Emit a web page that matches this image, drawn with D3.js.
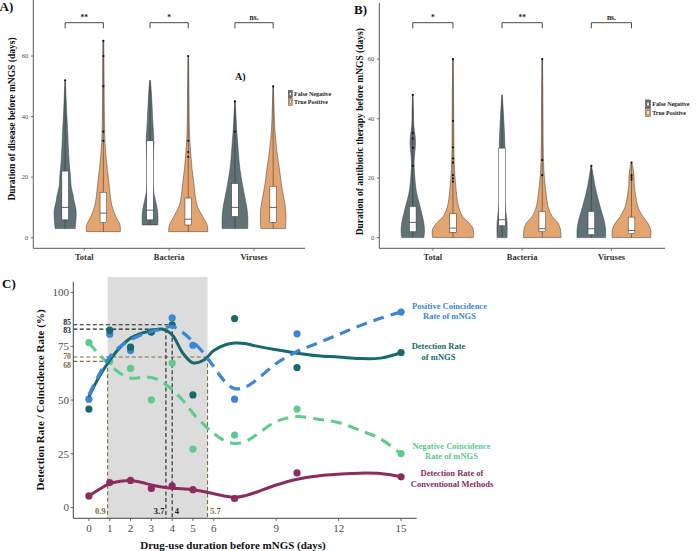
<!DOCTYPE html>
<html><head><meta charset="utf-8">
<script src="https://cdn.jsdelivr.net/npm/d3@7"></script>
<style>body{margin:0;background:#fff}svg{display:block;font-family:"Liberation Serif","Times New Roman",serif}</style>
</head><body><svg id="c" width="696" height="551"></svg>
<script>
// ---------------- DATA ----------------
const categories = ["Total", "Bacteria", "Viruses"];
const groups = ["False Negative", "True Positive"];
const groupColors = ["#5f7276", "#e3a46f"];

// Panel A: duration of disease before mNGS (days)
const sigA = ["**", "*", "ns."];
const densA_FN = [
  [[3,.50],[6,.54],[9,.55],[12,.45],[14,.40],[17,.30],[20,.27],[25,.20],[30,.16],[36,.12],[41,.08],[47,.04],[52,.01]],
  [[4.2,.39],[8,.39],[11.5,.30],[14.8,.19],[18,.15],[22.6,.14],[27,.16],[32,.19],[38,.14],[43.7,.10],[48,.065],[52,.015]],
  [[3,.64],[7,.64],[10.3,.585],[13.7,.485],[18.1,.36],[22.6,.25],[27,.185],[31.5,.135],[35.9,.085],[40.3,.05],[45.3,.01]]
];
const densA_TP = [
  [[2,.85],[4.3,.83],[7,.62],[10.3,.44],[13.7,.35],[18,.28],[22.6,.20],[27,.13],[31.5,.085],[36,.06],[45,.045],[55,.035],[65,.02]],
  [[2,.98],[4.3,.94],[7,.72],[10.3,.46],[13.7,.35],[18,.28],[22.6,.19],[27,.135],[31.5,.085],[36,.055],[45,.04],[52,.03],[60,.015]],
  [[3,.615],[7,.64],[10.3,.61],[13.7,.515],[18.1,.40],[22.6,.315],[27,.215],[31.5,.14],[35.9,.085],[41.5,.05],[50,.01]]
];
const boxA_FN = [[5.9,10,22],[5.9,9.1,32],[7,10,17.9]];
const boxA_TP = [[5,8.1,15],[4.2,6.1,13.1],[5.1,10,17]];
const outA_FN = [[52],[],[45,35]];
const outA_TP = [[65,60,50,35,32],[60,32,28.3,26.7],[50]];
const ticksA = [0, 20, 40, 60];

// Panel B: duration of antibiotic therapy before mNGS (days)
const sigB = ["*", "**", "ns."];
const densB_FN = [
  [[0,.56],[2.6,.585],[5.4,.54],[8.3,.44],[11.7,.315],[15,.19],[18.4,.125],[21.8,.085],[25.2,.065],[28.6,.10],[31.4,.135],[34.2,.115],[37.6,.05],[42.2,.035],[48,.01]],
  [[0,.25],[4.9,.25],[9.4,.175],[13.9,.11],[19.6,.09],[25.2,.11],[30.8,.14],[36.5,.11],[42.2,.065],[48,.01]],
  [[0,.715],[2.6,.715],[4.9,.665],[7.1,.585],[10.5,.435],[13.9,.30],[17.3,.185],[20.7,.10],[24.1,.015]]
];
const densB_TP = [
  [[0,1.015],[2.6,1.025],[4.9,.815],[7.1,.485],[10.5,.275],[13.9,.19],[17.3,.14],[20.7,.10],[25.2,.065],[30,.05],[40,.04],[50,.03],[60,.015]],
  [[0,.94],[2.6,.915],[4.9,.79],[7.1,.50],[10.5,.29],[13.9,.21],[17.3,.15],[20.7,.10],[25.2,.065],[30,.05],[40,.04],[50,.03],[60,.015]],
  [[0,.96],[2.6,.96],[4.9,.81],[7.1,.565],[10.5,.31],[13.9,.21],[17.3,.14],[20.7,.125],[22.9,.09],[25.2,.015]]
];
const boxB_FN = [[2,5.1,10.5],[4,6,30.1],[1,3,8.8]];
const boxB_TP = [[1.8,3.2,8],[2,3,8.8],[1.3,2.4,6.9]];
const outB_FN = [[48,35.2,33.3,30.2,24.1],[],[24.1]];
const outB_TP = [[60,39.2,30.3,26.6,25.2,21,19.9,18.8],[60,26.1,21],[25.2,21,20.3,19.5]];
const ticksB = [0, 20, 40, 60];

// Panel C: rates vs drug-use duration
const days = [0, 1, 2, 3, 4, 5, 7, 10, 15];
const posCoincidence = [50.4, 80.6, 73, 81.6, 88.2, 75.5, 50.4, 80.8, 90.9];
const detectionMNGS = [45.8, 82.5, 74.6, 81.6, 85, 52.4, 87.9, 65.1, 72.1];
const negCoincidence = [76.7, 67.9, 64.7, 50.1, 67.2, 27.2, 33.7, 45.8, 25.1];
const detectionConv = [5.4, 11.6, 12.6, 8.9, 10.1, 8.3, 4.2, 16.1, 14.3];
// smoothed fits
const fitX = [0,0.5,1,1.5,2,2.5,3,3.5,4,4.5,5,5.5,6,6.5,7,7.5,8,9,10,11,12,13,14,15];
const fitPos = [52.4,62,70,74.9,78,80.3,81.9,83,84.2,81.5,77.2,72,65.5,59,55.3,56,59,67,72.6,76.5,80.5,84.5,88,91];
const fitDet = [51.6,61,68.5,74.5,78.8,81,82.2,83,80.3,72,67.3,68.5,73,75.5,76.5,76.3,75.2,73.4,71.8,70.6,70,69.3,69.5,72];
const fitNeg = [76.7,71,66.5,62.5,60.2,60.5,60.5,58.5,54.8,50,43.9,38.8,34.5,31.2,29.8,30.7,33.5,40,42.3,41.1,39.5,36,32,25];
const fitConv = [5.4,8.5,11.2,12.2,12.6,11.8,10.5,9.6,9,8.7,8.3,7.5,6.4,5.4,4.8,5.5,7,10.5,13.2,14.7,15.5,16,15.8,14.3];
const xTicksC = [0, 1, 2, 3, 4, 5, 6, 9, 12, 15];
const yTicksC = [0, 25, 50, 75, 100];
const shadeRange = [0.9, 5.7];
const refBlack = [[3.7, 83], [4, 85]];
const refOlive = [[0.9, 68], [5.7, 70]];
const seriesLabels = [
  ["Positive Coincidence", "Rate of mNGS"],
  ["Detection Rate", "of mNGS"],
  ["Negative Coincidence", "Rate of mNGS"],
  ["Detection Rate of", "Conventional Methods"]
];

// ---------------- DRAW ----------------
const svg = d3.select("#c");
const AX = "#444";

function violinPanel(opt) {
  const g = svg.append("g");
  const x = d3.scalePoint().domain(categories).range(opt.xr).padding(0.6);
  const y = d3.scaleLinear().domain(opt.yd).range([opt.yBottom, opt.yTop]);
  const w = d3.scaleLinear().domain([0, 1]).range([0, 20]);
  const off = x.step() * 0.225;
  g.append("line").attr("x1", opt.xr[0]).attr("x2", opt.xr[0]).attr("y1", opt.yTop).attr("y2", opt.yBottom).attr("stroke", AX).attr("stroke-width", 0.9);
  g.append("line").attr("x1", opt.xr[0]).attr("x2", opt.xr[1]).attr("y1", opt.yBottom).attr("y2", opt.yBottom).attr("stroke", AX).attr("stroke-width", 0.9);
  opt.ticks.forEach(t => {
    g.append("line").attr("x1", opt.xr[0] - 2.5).attr("x2", opt.xr[0]).attr("y1", y(t)).attr("y2", y(t)).attr("stroke", AX).attr("stroke-width", 0.7);
    g.append("text").attr("x", opt.xr[0] - 5).attr("y", y(t) + 2.2).attr("text-anchor", "end").attr("font-size", 6.5).attr("fill", "#4d4d4d").text(t);
  });
  categories.forEach((c, i) => {
    g.append("line").attr("x1", x(c)).attr("x2", x(c)).attr("y1", opt.yBottom).attr("y2", opt.yBottom + 2.5).attr("stroke", AX).attr("stroke-width", 0.7);
    g.append("text").attr("x", x(c)).attr("y", opt.yBottom + 11.5).attr("text-anchor", "middle").attr("font-size", 8.5).attr("font-weight", "bold").attr("fill", "#333").text(c);
    const sets = [[opt.densFN[i], opt.boxFN[i], opt.outFN[i], groupColors[0], -off], [opt.densTP[i], opt.boxTP[i], opt.outTP[i], groupColors[1], off]];
    sets.forEach(([dens, box, outs, col, o]) => {
      const cx = x(c) + o;
      const area = d3.area().y(d => y(d[0])).x0(d => cx - w(d[1])).x1(d => cx + w(d[1])).curve(d3.curveCatmullRom);
      g.append("path").attr("d", area(dens)).attr("fill", col).attr("stroke", "#3a3a3a").attr("stroke-width", 0.5);
      g.append("line").attr("x1", cx).attr("x2", cx).attr("y1", y(dens[0][0])).attr("y2", y(dens[dens.length - 1][0])).attr("stroke", "#222").attr("stroke-width", 0.6).attr("stroke-opacity", 0.8);
      g.append("rect").attr("x", cx - 3.3).attr("width", 6.6).attr("y", y(box[2])).attr("height", y(box[0]) - y(box[2])).attr("fill", "#fff").attr("stroke", "#333").attr("stroke-width", 0.5);
      g.append("line").attr("x1", cx - 3.3).attr("x2", cx + 3.3).attr("y1", y(box[1])).attr("y2", y(box[1])).attr("stroke", "#222").attr("stroke-width", 0.7);
      outs.forEach(v => g.append("circle").attr("cx", cx).attr("cy", y(v)).attr("r", 1.1).attr("fill", "#111"));
    });
    const bx0 = x(c) - off, bx1 = x(c) + off;
    g.append("path").attr("d", `M${bx0},28.3V22.7H${bx1}V28.3`).attr("fill", "none").attr("stroke", "#333").attr("stroke-width", 0.9);
    g.append("text").attr("x", x(c)).attr("y", 19.5).attr("text-anchor", "middle").attr("font-size", 7.5).attr("font-weight", "bold").attr("fill", "#222").text(opt.sig[i]);
  });
  g.append("text").attr("transform", `translate(${opt.titleX},${opt.titleY}) rotate(-90)`).attr("text-anchor", "middle").attr("font-size", 9.5).attr("font-weight", "bold").attr("fill", "#111").text(opt.title);
  g.append("text").attr("x", opt.labelX).attr("y", opt.labelY).attr("font-size", 13).attr("font-weight", "bold").attr("fill", "#111").text(opt.label);
  groups.forEach((gr, k) => {
    const ly = opt.legY[k];
    g.append("rect").attr("x", opt.legX).attr("y", ly - opt.keyH / 2).attr("width", opt.keyW).attr("height", opt.keyH).attr("fill", groupColors[k]).attr("stroke", "#333").attr("stroke-width", 0.4);
    g.append("rect").attr("x", opt.legX + opt.keyW * 0.3).attr("y", ly - opt.keyH * 0.22).attr("width", opt.keyW * 0.4).attr("height", opt.keyH * 0.44).attr("fill", "#fff").attr("stroke", "#333").attr("stroke-width", 0.3);
    g.append("text").attr("x", opt.legX + opt.keyW + 1.8).attr("y", ly + 2).attr("font-size", 6).attr("font-weight", "bold").attr("fill", "#222").text(gr);
  });
  return g;
}

const gA = violinPanel({
  xr: [33.3, 305], yd: [-3.5, 78.5], yBottom: 248.3, yTop: 0,
  ticks: ticksA, densFN: densA_FN, densTP: densA_TP, boxFN: boxA_FN, boxTP: boxA_TP, outFN: outA_FN, outTP: outA_TP,
  sig: sigA, title: "Duration of disease before mNGS (days)", titleX: 15, titleY: 119,
  label: "A)", labelX: -0.5, labelY: 11, legX: 288.3, legY: [94, 101.7], keyW: 4, keyH: 7.4
});
gA.append("text").attr("x", 235).attr("y", 80).attr("font-size", 10).attr("font-weight", "bold").attr("fill", "#111").text("A)");

violinPanel({
  xr: [379.3, 665], yd: [-3.6, 78.9], yBottom: 248.3, yTop: 3,
  ticks: ticksB, densFN: densB_FN, densTP: densB_TP, boxFN: boxB_FN, boxTP: boxB_TP, outFN: outB_FN, outTP: outB_TP,
  sig: sigB, title: "Duration of antibiotic therapy before mNGS (days)", titleX: 363, titleY: 131.7,
  label: "B)", labelX: 354, labelY: 13.5, legX: 645.5, legY: [104, 112.5], keyW: 5, keyH: 8.2
});

// Panel C
const gC = svg.append("g");
const xC = d3.scaleLinear().domain([-0.75, 15.75]).range([73.3, 416.7]);
const yC = d3.scaleLinear().domain([-5, 105]).range([518.3, 281.8]);
const yTopShade = yC(107.2);
gC.append("rect").attr("x", xC(shadeRange[0])).attr("width", xC(shadeRange[1]) - xC(shadeRange[0]))
  .attr("y", yTopShade).attr("height", yC(-5) - yTopShade).attr("fill", "#dcdcdc");

const BLK = "#222", OLV = "#7d6e3c";
function refLines(arr, col) {
  arr.forEach(([xv, yv]) => {
    gC.append("line").attr("x1", xC(-0.75)).attr("x2", xC(xv)).attr("y1", yC(yv)).attr("y2", yC(yv)).attr("stroke", col).attr("stroke-width", 1.1).attr("stroke-dasharray", "4,2.5");
    gC.append("line").attr("x1", xC(xv)).attr("x2", xC(xv)).attr("y1", yC(yv)).attr("y2", yC(-5)).attr("stroke", col).attr("stroke-width", 1.1).attr("stroke-dasharray", "4,2.5");
  });
}
refLines(refOlive, OLV);
refLines(refBlack, BLK);

const series = [
  {fit: fitPos, pts: posCoincidence, col: "#3b86d6", dash: "11,7", w: 3.2},
  {fit: fitDet, pts: detectionMNGS, col: "#17696b", dash: null, w: 3},
  {fit: fitNeg, pts: negCoincidence, col: "#5ccb8c", dash: "11,7", w: 3},
  {fit: fitConv, pts: detectionConv, col: "#8c2c5e", dash: null, w: 3}
];
const lineGen = d3.line().x(d => xC(d[0])).y(d => yC(d[1])).curve(d3.curveCatmullRom);
series.forEach(s => {
  gC.append("g").selectAll("circle").data(days.map((d, i) => [d, s.pts[i]])).join("circle")
    .attr("cx", d => xC(d[0])).attr("cy", d => yC(d[1])).attr("r", 3.6).attr("fill", s.col);
});
[series[3], series[2], series[1], series[0]].forEach(s => {
  const p = gC.append("path").attr("d", lineGen(fitX.map((x, i) => [x, s.fit[i]])))
    .attr("fill", "none").attr("stroke", s.col).attr("stroke-width", s.w).attr("stroke-linecap", "butt");
  if (s.dash) p.attr("stroke-dasharray", s.dash);
});

gC.append("line").attr("x1", 73.3).attr("x2", 73.3).attr("y1", 281.8).attr("y2", 518.3).attr("stroke", AX).attr("stroke-width", 1);
gC.append("line").attr("x1", 73.3).attr("x2", 416.7).attr("y1", 518.3).attr("y2", 518.3).attr("stroke", AX).attr("stroke-width", 1);
yTicksC.forEach(t => {
  gC.append("line").attr("x1", 70.5).attr("x2", 73.3).attr("y1", yC(t)).attr("y2", yC(t)).attr("stroke", AX).attr("stroke-width", 0.8);
  gC.append("text").attr("x", 69).attr("y", yC(t) + 3.8).attr("text-anchor", "end").attr("font-size", 11).attr("fill", "#4d4d4d").text(t);
});
xTicksC.forEach(t => {
  gC.append("line").attr("x1", xC(t)).attr("x2", xC(t)).attr("y1", 518.3).attr("y2", 521).attr("stroke", AX).attr("stroke-width", 0.8);
  gC.append("text").attr("x", xC(t)).attr("y", 531.5).attr("text-anchor", "middle").attr("font-size", 11).attr("fill", "#4d4d4d").text(t);
});
// reference labels on y axis (center offsets keep adjacent labels apart)
[[85, BLK, -2.8], [83, BLK, 1.6], [70, OLV, -0.9], [68, OLV, 3.6]].forEach(([v, col, dy]) => {
  gC.append("text").attr("x", 71).attr("y", yC(v) + dy).attr("dy", "0.35em").attr("text-anchor", "end").attr("font-size", 7.8).attr("font-weight", "bold").attr("fill", col).text(v);
});
[[0.9, OLV, "end", -2], [3.7, BLK, "end", -1.5], [4, BLK, "start", 2.5], [5.7, OLV, "start", 2.5]].forEach(([v, col, anc, dx]) => {
  gC.append("text").attr("x", xC(v) + dx).attr("y", 514).attr("text-anchor", anc).attr("font-size", 8.5).attr("font-weight", "bold").attr("fill", col).text(v);
});
const labPos = [[449.5, 308.5], [438.5, 349], [451.5, 448.5], [452, 476]];
seriesLabels.forEach((lines, i) => {
  lines.forEach((t, j) => {
    gC.append("text").attr("x", labPos[i][0]).attr("y", labPos[i][1] + j * 10.8).attr("text-anchor", "middle")
      .attr("font-size", 8.5).attr("font-weight", "bold").attr("fill", series[i].col).text(t);
  });
});
gC.append("text").attr("transform", "translate(44,400) rotate(-90)").attr("text-anchor", "middle").attr("font-size", 11).attr("font-weight", "bold").attr("fill", "#111").text("Detection Rate / Coincidence Rate (%)");
gC.append("text").attr("x", 233).attr("y", 549).attr("text-anchor", "middle").attr("font-size", 11).attr("font-weight", "bold").attr("fill", "#111").text("Drug-use duration before mNGS (days)");
gC.append("text").attr("x", 2).attr("y", 288).attr("font-size", 13).attr("font-weight", "bold").attr("fill", "#111").text("C)");
</script></body></html>
